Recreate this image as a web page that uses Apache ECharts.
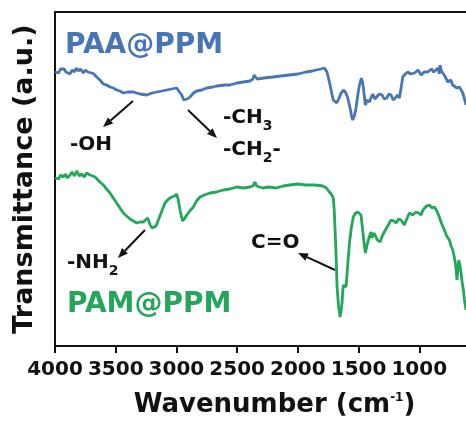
<!DOCTYPE html>
<html>
<head>
<meta charset="utf-8">
<script src="https://cdn.jsdelivr.net/npm/echarts@6/dist/echarts.min.js"></script>
<style>
  html, body { margin: 0; padding: 0; background: #fff; }
  #chart { width: 466px; height: 421px; }
</style>
</head>
<body>
<div id="chart"></div>
<script>
// wavenumber ticks shown on the x axis
const xTicks = [4000, 3500, 3000, 2500, 2000, 1500, 1000];

// [wavenumber, transmittance (a.u.)]
const paaData = [
  [4000,274],[3985,276],[3970,273],[3955,277],[3940,275],[3925,277],[3910,274],[3895,276],[3876,272],[3860,276],
  [3840,274],[3825,278],[3808,275],[3790,277],[3767,273],[3750,276],[3730,274],[3715,276],[3698,273],[3680,272],
  [3657,269],[3630,266],[3602,262],[3575,261],[3547,259],[3520,258],[3492,256],[3465,255],[3437,253],[3400,254],
  [3355,254],[3300,252],[3245,251],[3200,253],[3162,254],[3120,255],[3080,256],[3040,257],[2998,258],[2975,254],
  [2956,251],[2940,246],[2929,244],[2910,247],[2888,249],[2860,253],[2833,255],[2790,256],[2750,258],[2700,259],
  [2668,260],[2600,261],[2559,261],[2500,263],[2449,264],[2394,265],[2370,267],[2361,271],[2350,269],[2335,267],
  [2325,267],[2280,268],[2207,269],[2140,270],[2070,271],[2000,272],[1933,274],[1880,275],[1850,276],[1810,277],
  [1782,278],[1768,277],[1760,274],[1748,268],[1735,261],[1720,252],[1708,246],[1695,244],[1680,243],[1660,248],
  [1644,253],[1622,256],[1605,253],[1589,248],[1570,238],[1556,229],[1548,226],[1535,230],[1521,238],[1505,252],
  [1493,261],[1477,268],[1468,264],[1460,258],[1452,249],[1444,241],[1430,246],[1411,244],[1395,249],[1383,252],
  [1366,247],[1350,248],[1330,252],[1306,251],[1290,247],[1268,248],[1250,252],[1232,251],[1215,246],[1197,248],
  [1180,251],[1164,248],[1150,258],[1136,269],[1115,272],[1095,274],[1070,272],[1040,273],[1010,276],[985,271],
  [960,274],[930,274],[900,277],[880,274],[862,276],[845,278],[835,272],[829,281],[818,275],[807,273],
  [790,270],[765,264],[740,266],[725,261],[711,263],[690,258],[670,259],[655,256],[642,253],[630,248],[615,241]
];

const pamData = [
  [4000,168],[3985,170],[3970,167],[3955,171],[3932,169],[3915,172],[3900,168],[3876,171],[3860,174],[3840,170],
  [3821,175],[3800,170],[3780,172],[3760,169],[3740,173],[3712,171],[3690,170],[3670,169],[3657,167],[3630,164],
  [3602,161],[3575,157],[3547,153],[3520,148],[3492,143],[3465,138],[3437,133],[3410,130],[3382,127],[3355,125],
  [3327,123],[3300,124],[3273,124],[3255,126],[3237,128],[3225,124],[3217,121],[3200,118],[3185,117],[3168,120],
  [3149,126],[3120,135],[3094,143],[3065,147],[3039,149],[3015,150],[2998,152],[2985,146],[2970,136],[2958,129],
  [2948,125],[2930,128],[2915,131],[2890,135],[2861,139],[2835,145],[2806,149],[2770,151],[2723,153],[2670,154],
  [2614,156],[2560,157],[2503,159],[2450,158],[2394,159],[2370,160],[2353,164],[2340,160],[2325,159],[2289,158],
  [2240,159],[2180,158],[2120,160],[2070,161],[2000,162],[1933,161],[1860,161],[1795,160],[1765,158],[1740,154],
  [1720,151],[1708,148],[1700,135],[1691,109],[1683,83],[1677,59],[1665,40],[1652,29],[1644,35],[1636,43],
  [1630,55],[1625,61],[1614,60],[1603,59],[1590,80],[1575,103],[1560,118],[1543,129],[1525,133],[1507,134],
  [1493,134],[1480,131],[1470,120],[1460,109],[1452,100],[1444,93],[1434,99],[1424,104],[1410,110],[1397,114],
  [1390,108],[1383,106],[1372,113],[1362,111],[1345,106],[1323,104],[1305,110],[1288,114],[1260,120],[1232,126],
  [1210,125],[1191,123],[1170,127],[1150,126],[1135,124],[1123,121],[1100,128],[1082,133],[1055,131],[1027,134],
  [1005,133],[985,131],[970,136],[958,138],[940,140],[917,141],[895,138],[876,139],[855,135],[835,129],
  [815,122],[793,116],[775,110],[752,106],[738,100],[724,96],[712,89],[703,83],[695,74],[689,66],
  [682,78],[675,86],[665,80],[656,73],[647,64],[637,56],[628,46],[621,40],[615,36]
];

const BLUE = '#4676b4';
const GREEN = '#24a65b';
const INK = '#111';
const FONT = 'DejaVu Sans';

// measure text so subscripts sit right after the main text
const measureCtx = document.createElement('canvas').getContext('2d');
function textWidth(text, size) {
  measureCtx.font = 'bold ' + size + 'px "' + FONT + '"';
  return measureCtx.measureText(text).width;
}

// annotation arrow: shaft + filled head at (x2, y2)
function arrow(x1, y1, x2, y2) {
  const a = Math.atan2(y2 - y1, x2 - x1);
  const len = 10, half = 4;
  const bx = x2 - len * Math.cos(a), by = y2 - len * Math.sin(a);
  const px = -Math.sin(a) * half, py = Math.cos(a) * half;
  return [
    { type: 'line', shape: { x1: x1, y1: y1, x2: bx, y2: by }, style: { stroke: INK, lineWidth: 2 } },
    { type: 'polygon', shape: { points: [[x2, y2], [bx + px, by + py], [bx - px, by - py]] }, style: { fill: INK } }
  ];
}

function label(x, y, text, color, size) {
  return {
    type: 'text', x: x, y: y,
    style: { text: text, fill: color, font: 'bold ' + size + 'px "' + FONT + '"', textAlign: 'left', textVerticalAlign: 'middle' }
  };
}

// main text, subscript, optional tail ("-CH" + "2" + "-")
function subLabel(x, y, main, sub, tail) {
  const out = [label(x, y, main, INK, 20)];
  const x2 = x + textWidth(main, 20);
  out.push(label(x2, y + 8, sub, INK, 14));
  if (tail) out.push(label(x2 + textWidth(sub, 14), y, tail, INK, 20));
  return out;
}

let myChart = echarts.init(document.getElementById('chart'));
let option = {
  animation: false,
  backgroundColor: '#fff',
  // plot runs past the right edge of the picture, as in the source figure
  grid: { left: 55, right: -14, top: 12, bottom: 75, containLabel: false, outerBoundsMode: 'none' },
  xAxis: [{
    type: 'value',
    inverse: true,
    min: 500, max: 4000, interval: 500,
    name: 'Wavenumber (cm{sup|-1})',
    nameLocation: 'middle',
    nameGap: 46,
    nameTextStyle: {
      color: INK, fontSize: 26, fontWeight: 'bold', fontFamily: FONT,
      padding: [0, 0, 0, 14],
      rich: { sup: { fontSize: 12, lineHeight: 14, verticalAlign: 'top', fontWeight: 'bold', fontFamily: FONT, color: INK } }
    },
    axisLine: { lineStyle: { color: INK, width: 2 } },
    axisTick: { show: true, length: 7, lineStyle: { color: INK, width: 2 } },
    axisLabel: {
      margin: 14,
      hideOverlap: false,
      color: INK, fontSize: 20, fontWeight: 'bold', fontFamily: FONT,
      formatter: function (v) { return xTicks.indexOf(v) >= 0 ? String(v) : ''; }
    },
    splitLine: { show: false }
  }, {
    // top frame line
    type: 'value', position: 'top', inverse: true, min: 500, max: 4000, interval: 500,
    axisLine: { show: true, lineStyle: { color: INK, width: 2 } },
    axisTick: { show: false }, axisLabel: { show: false }, splitLine: { show: false }
  }],
  yAxis: {
    type: 'value',
    min: 0, max: 334,
    name: 'Transmittance (a.u.)',
    nameLocation: 'middle',
    nameGap: 17,
    nameTextStyle: { color: INK, fontSize: 27, fontWeight: 'bold', fontFamily: FONT },
    axisLine: { show: true, lineStyle: { color: INK, width: 2 } },
    axisTick: { show: false },
    axisLabel: { show: false },
    splitLine: { show: false }
  },
  series: [
    {
      name: 'PAA@PPM', type: 'line', data: paaData, showSymbol: false,
      lineStyle: { color: BLUE, width: 2.8 }
    },
    {
      name: 'PAM@PPM', type: 'line', data: pamData, showSymbol: false,
      lineStyle: { color: GREEN, width: 2.8 }
    }
  ],
  graphic: [
    label(65, 46, 'PAA@PPM', BLUE, 28),
    label(67, 305, 'PAM@PPM', GREEN, 28),
    label(70, 145, '-OH', INK, 20),
    label(251, 243, 'C=O', INK, 20)
  ]
    .concat(subLabel(223, 118, '-CH', '3'))
    .concat(subLabel(223, 150, '-CH', '2', '-'))
    .concat(subLabel(67, 263, '-NH', '2'))
    .concat(arrow(133, 101, 103, 127))
    .concat(arrow(188, 110, 217, 138))
    .concat(arrow(145, 230, 118, 258))
    .concat(arrow(335, 270, 298, 253))
};
myChart.setOption(option);
</script>
</body>
</html>
